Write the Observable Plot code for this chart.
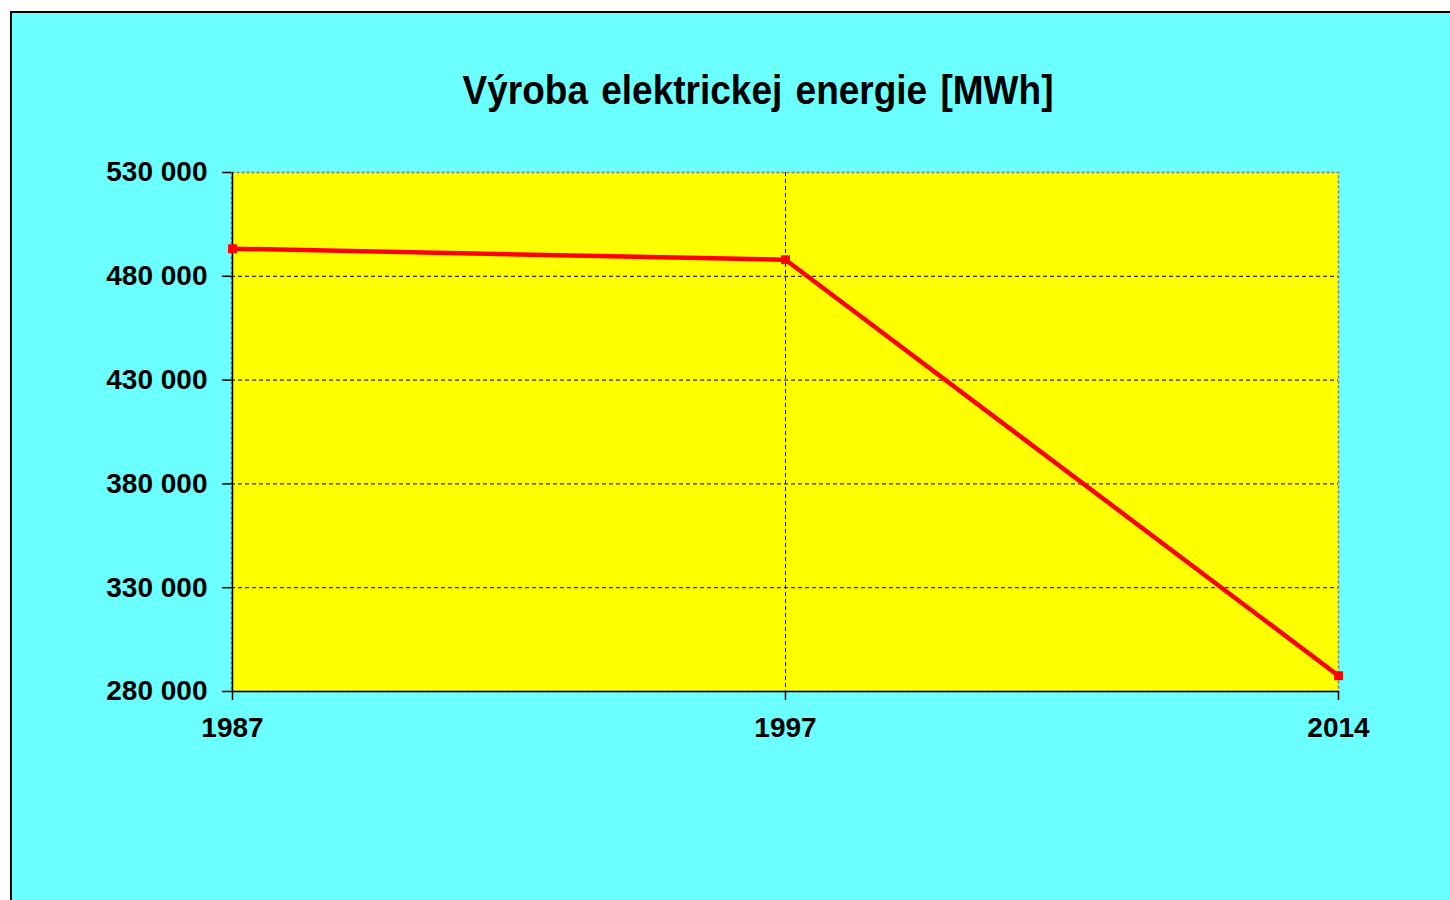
<!DOCTYPE html>
<html>
<head>
<meta charset="utf-8">
<script src="https://cdn.jsdelivr.net/npm/d3@7"></script>
<script src="https://cdn.jsdelivr.net/npm/@observablehq/plot@0.6"></script>
<style>
  html, body { margin: 0; padding: 0; background: #ffffff; width: 1450px; height: 900px; overflow: hidden; }
  #panel { position: absolute; left: 10px; top: 11px; width: 1460px; height: 910px; background: #6BFFFF;
           border-left: 2px solid #000; border-top: 2px solid #000; box-sizing: border-box; }
  #title { position: absolute; left: 0; top: 70px; width: 1516px; text-align: center;
           font-family: "Liberation Sans", Arial, sans-serif; font-weight: bold; font-size: 37px;
           color: #000; word-spacing: 3px; transform: scaleY(1.12); transform-origin: 50% 50%; }
  #chart { position: absolute; left: 0; top: 0; }
</style>
</head>
<body>
<div id="panel"></div>
<div id="title">Výroba elektrickej energie [MWh]</div>
<div id="chart"></div>
<script>
const years = ["1987", "1997", "2014"];
const production = [493300, 488000, 287600];
const yTicks = [280000, 330000, 380000, 430000, 480000, 530000];

const data = years.map((y, i) => ({year: y, value: production[i]}));
const fmt = d3.formatLocale({thousands: " ", grouping: [3], decimal: ","}).format(",");
const font = "'Liberation Sans', Arial, sans-serif";

const chart = Plot.plot({
  width: 1450,
  height: 900,
  marginLeft: 231,
  marginRight: 112,
  marginTop: 172,
  marginBottom: 209,
  style: {background: "transparent", fontFamily: font, fontWeight: "bold", fontSize: "28px", color: "#000", overflow: "visible"},
  x: {type: "point", domain: years, padding: 0, label: null},
  y: {domain: [280000, 530000], label: null},
  marks: [
    Plot.frame({fill: "#FFFF00", stroke: "#808080", strokeDasharray: "3,2", strokeWidth: 1.5}),
    Plot.gridY(yTicks.slice(1, -1), {stroke: "#000", strokeOpacity: 1, strokeDasharray: "4,3", strokeWidth: 1}),
    Plot.gridX(["1997"], {stroke: "#000", strokeOpacity: 1, strokeDasharray: "4,3", strokeWidth: 1}),
    Plot.ruleX(["1987"], {stroke: "#000", strokeWidth: 1.5}),
    Plot.ruleY([280000], {stroke: "#000", strokeWidth: 1.5}),
    Plot.axisY({ticks: yTicks, tickFormat: fmt, tickSize: 9, tickPadding: 15, label: null,
                fontSize: 28, fontWeight: "bold", stroke: "#000", strokeWidth: 1.5}),
    Plot.axisX({ticks: years, tickSize: 9, tickPadding: 17, label: null,
                fontSize: 28, fontWeight: "bold", stroke: "#000", strokeWidth: 1.5}),
    Plot.line(data, {x: "year", y: "value", stroke: "#FF0000", strokeWidth: 4.5}),
    Plot.dot(data, {x: "year", y: "value", symbol: "square", r: 5, fill: "#FF0000", stroke: "none"})
  ]
});
document.getElementById("chart").append(chart);
</script>
</body>
</html>
